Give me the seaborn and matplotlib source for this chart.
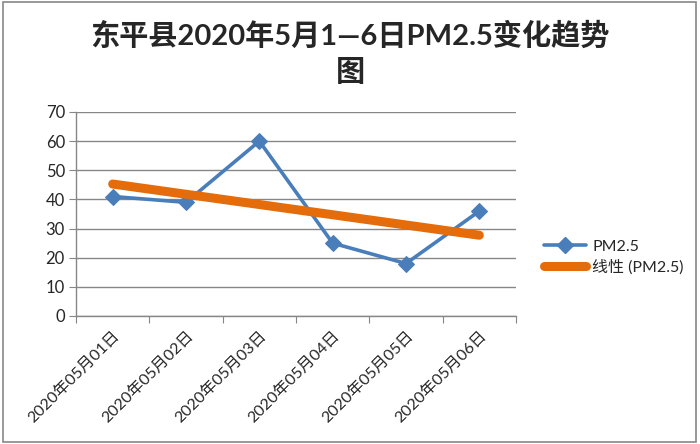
import numpy as np
import pandas as pd
import seaborn as sns
import matplotlib
matplotlib.use("Agg")
import matplotlib.pyplot as plt
from matplotlib.patches import Rectangle
from matplotlib.lines import Line2D

categories = ["2020年05月01日", "2020年05月02日", "2020年05月03日",
              "2020年05月04日", "2020年05月05日", "2020年05月06日"]
pm25 = [41, 39, 60, 25, 18, 36]
yticks = [0, 10, 20, 30, 40, 50, 60, 70]
title = "东平县2020年5月1—6日PM2.5变化趋势\n图"
series_label = "PM2.5"
trend_label = "线性 (PM2.5)"

sns.set_style("white")
plt.rcParams['font.family'] = ['Lato', 'Noto Sans CJK SC', 'DejaVu Sans']

df = pd.DataFrame({"pos": np.arange(len(categories)), "value": pm25})

fig = plt.figure(figsize=(7.0, 4.44), dpi=100)
ax = fig.add_axes([76/700, 1-316/444, (516-76)/700, (316-112)/444])

blue = "#4A7EBB"
orange = "#E46C0A"
grid = "#878787"

sns.lineplot(data=df, x="pos", y="value", ax=ax, color=blue, linewidth=2.6,
             marker="D", markersize=8, markeredgecolor=blue, sort=False, zorder=3)
sns.regplot(data=df, x="pos", y="value", ax=ax, scatter=False, ci=None,
            truncate=True, line_kws=dict(color=orange, linewidth=6.5,
                                         solid_capstyle="round", zorder=4))

ax.set_xlim(-0.5, len(categories) - 0.5)
ax.set_ylim(0, 70)
ax.set_yticks(yticks)
ax.set_yticklabels([str(v) for v in yticks], fontsize=12)
ax.set_xticks(np.arange(len(categories) + 1) - 0.5)
ax.set_xticklabels([])
ax.set_xticks(np.arange(len(categories)), minor=True)
ax.set_xticklabels(categories, minor=True, rotation=45, ha="right",
                   rotation_mode="anchor", fontsize=11.5)
ax.tick_params(axis="x", which="major", length=5, color=grid, direction="out", bottom=True)
ax.tick_params(axis="x", which="minor", length=0, pad=9)
ax.tick_params(axis="y", length=5, color=grid, direction="out", left=True, pad=3)
ax.set_xlabel("")
ax.set_ylabel("")
ax.yaxis.grid(True, color=grid, linewidth=1)
ax.set_axisbelow(True)
for s in ["top", "right"]:
    ax.spines[s].set_visible(False)
for s in ["left", "bottom"]:
    ax.spines[s].set_color(grid)
    ax.spines[s].set_linewidth(1)

handles = [Line2D([], [], color=blue, linewidth=2.6, marker="D", markersize=8),
           Line2D([], [], color=orange, linewidth=6.5, solid_capstyle="round")]
fig.legend(handles, [series_label, trend_label], loc="center left",
           bbox_to_anchor=(530/700, 1-257/444), frameon=False, fontsize=11.5,
           handlelength=2.6, labelspacing=0.35, handletextpad=0.4)

fig.text(0.5, 1-54/444, title, ha="center", va="center", fontsize=21,
         fontweight="bold", linespacing=1.4)

fig.patches.append(Rectangle((0.004, 0.005), 0.99, 0.99, transform=fig.transFigure,
                             fill=False, edgecolor="#888888", linewidth=1.2))

fig.savefig("out.png", dpi=100)
